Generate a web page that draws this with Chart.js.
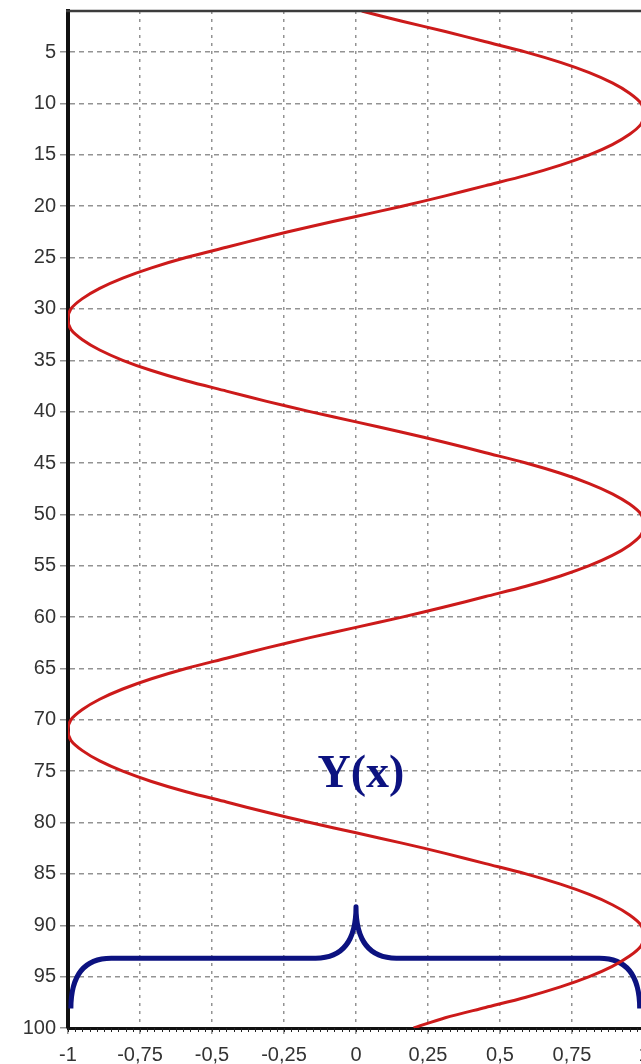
<!DOCTYPE html>
<html>
<head>
<meta charset="utf-8">
<title>Y(x)</title>
<script src="https://cdn.jsdelivr.net/npm/chart.js@4.4.1/dist/chart.umd.min.js"></script>
<style>
  html, body { margin: 0; padding: 0; background: #fff; overflow: hidden; }
  #wrap { width: 660px; height: 1064px; }
</style>
</head>
<body>
<div id="wrap"><canvas id="chart" width="660" height="1064"></canvas></div>
<script>
// depth along the vertical axis
const depth = [
  1, 2, 3, 4, 5, 6, 7, 8, 9, 10, 11, 12, 13, 14, 15, 16, 17, 18, 19, 20,
  21, 22, 23, 24, 25, 26, 27, 28, 29, 30, 31, 32, 33, 34, 35, 36, 37, 38, 39, 40,
  41, 42, 43, 44, 45, 46, 47, 48, 49, 50, 51, 52, 53, 54, 55, 56, 57, 58, 59, 60,
  61, 62, 63, 64, 65, 66, 67, 68, 69, 70, 71, 72, 73, 74, 75, 76, 77, 78, 79, 80,
  81, 82, 83, 84, 85, 86, 87, 88, 89, 90, 91, 92, 93, 94, 95, 96, 97, 98, 99, 100
];

// Y(x) value at each depth
const yValue = [
  0.02, 0.16, 0.31, 0.45, 0.59, 0.71, 0.81, 0.89, 0.95, 0.99, 1, 0.99, 0.95, 0.89, 0.81, 0.71, 0.59, 0.45, 0.31, 0.16,
  0, -0.16, -0.31, -0.45, -0.59, -0.71, -0.81, -0.89, -0.95, -0.99, -1, -0.99, -0.95, -0.89, -0.81, -0.71, -0.59, -0.45, -0.31, -0.16,
  0, 0.16, 0.31, 0.45, 0.59, 0.71, 0.81, 0.89, 0.95, 0.99, 1, 0.99, 0.95, 0.89, 0.81, 0.71, 0.59, 0.45, 0.31, 0.16,
  0, -0.16, -0.31, -0.45, -0.59, -0.71, -0.81, -0.89, -0.95, -0.99, -1, -0.99, -0.95, -0.89, -0.81, -0.71, -0.59, -0.45, -0.31, -0.16,
  0, 0.16, 0.31, 0.45, 0.59, 0.71, 0.81, 0.89, 0.95, 0.99, 1, 0.99, 0.95, 0.89, 0.81, 0.71, 0.59, 0.45, 0.31, 0.2
];

const xTicks = [-1, -0.75, -0.5, -0.25, 0, 0.25, 0.5, 0.75, 1];
const xLabels = ['-1', '-0,75', '-0,5', '-0,25', '0', '0,25', '0,5', '0,75', '1'];
const yTicks = [5, 10, 15, 20, 25, 30, 35, 40, 45, 50, 55, 60, 65, 70, 75, 80, 85, 90, 95, 100];

const CURVE_COLOR = '#cc1a1a';
const BRACE_COLOR = '#0c1280';
const GRID_COLOR = '#939393';

// brace under the curve, in axis units
const brace = { left: -0.99, right: 0.985, level: 93.2, foot: 98.1, tip: 88.2, bend: 0.14, tipBend: 0.14 };
const label = { text: 'Y(x)', x: 0.017, y: 76.5 };

const decor = {
  id: 'decor',
  beforeDatasetsDraw(chart) {
    const { ctx, scales: { x, y } } = chart;
    const P = (vx, vy) => [x.getPixelForValue(vx), y.getPixelForValue(vy)];

    ctx.save();
    ctx.strokeStyle = BRACE_COLOR;
    ctx.lineWidth = 5;
    ctx.lineJoin = 'round';
    ctx.beginPath();
    ctx.moveTo(...P(brace.left, brace.foot));
    ctx.quadraticCurveTo(...P(brace.left, brace.level), ...P(brace.left + brace.bend, brace.level));
    ctx.lineTo(...P(-brace.tipBend, brace.level));
    ctx.quadraticCurveTo(...P(0, brace.level), ...P(0, brace.tip));
    ctx.quadraticCurveTo(...P(0, brace.level), ...P(brace.tipBend, brace.level));
    ctx.lineTo(...P(brace.right - brace.bend, brace.level));
    ctx.quadraticCurveTo(...P(brace.right, brace.level), ...P(brace.right, brace.foot));
    ctx.stroke();

    ctx.fillStyle = BRACE_COLOR;
    ctx.font = 'bold 46px "Liberation Serif", "Times New Roman", serif';
    ctx.textAlign = 'center';
    ctx.textBaseline = 'alphabetic';
    ctx.fillText(label.text, ...P(label.x, label.y));
    ctx.restore();
  },
  afterDraw(chart) {
    const { ctx, chartArea, scales: { x } } = chart;
    ctx.save();
    // top frame
    ctx.strokeStyle = '#3c3c3c';
    ctx.lineWidth = 2.5;
    ctx.beginPath();
    ctx.moveTo(chartArea.left - 2, chartArea.top);
    ctx.lineTo(chartArea.right + 20, chartArea.top);
    ctx.stroke();
    // small ticks along the bottom axis
    ctx.strokeStyle = '#222';
    ctx.lineWidth = 1;
    ctx.beginPath();
    for (let i = 0; i <= 80; i++) {
      const px = Math.round(x.getPixelForValue(-1 + i * 0.025)) + 0.5;
      ctx.moveTo(px, chartArea.bottom);
      ctx.lineTo(px, chartArea.bottom + 4);
    }
    ctx.stroke();
    ctx.restore();
  }
};

new Chart(document.getElementById('chart'), {
  type: 'scatter',
  data: {
    datasets: [{
      data: depth.map((d, i) => ({ x: yValue[i], y: d })),
      showLine: true,
      borderColor: CURVE_COLOR,
      borderWidth: 3,
      pointRadius: 0,
      tension: 0.3
    }]
  },
  options: {
    responsive: false,
    animation: false,
    layout: { padding: { top: 11, right: 16, left: 0, bottom: 0 } },
    plugins: { legend: { display: false }, tooltip: { enabled: false } },
    scales: {
      x: {
        type: 'linear',
        min: -1,
        max: 1,
        afterFit(scale) {
          scale.height = 36;
          scale.paddingLeft = 0;
          scale.paddingRight = 0;
        },
        afterBuildTicks(scale) { scale.ticks = xTicks.map(v => ({ value: v })); },
        grid: { color: GRID_COLOR, lineWidth: 1.5, tickLength: 6, drawTicks: true },
        border: { display: true, color: '#111', width: 3, dash: [3, 5] },
        ticks: {
          padding: 9,
          color: '#333',
          font: { family: '"Liberation Sans", Arial, sans-serif', size: 20 },
          maxRotation: 0,
          callback: (v) => xLabels[xTicks.indexOf(v)]
        }
      },
      y: {
        type: 'linear',
        reverse: true,
        min: 1,
        max: 100,
        afterFit(scale) {
          scale.width = 68;
          scale.paddingTop = 0;
          scale.paddingBottom = 0;
        },
        afterBuildTicks(scale) { scale.ticks = yTicks.map(v => ({ value: v })); },
        grid: { color: GRID_COLOR, lineWidth: 1.5, tickLength: 8, drawTicks: true },
        border: { display: true, color: '#111', width: 4, dash: [5, 4] },
        ticks: {
          padding: 4,
          color: '#333',
          font: { family: '"Liberation Sans", Arial, sans-serif', size: 20 },
          callback: (v) => String(v)
        }
      }
    }
  },
  plugins: [decor]
});
</script>
</body>
</html>
